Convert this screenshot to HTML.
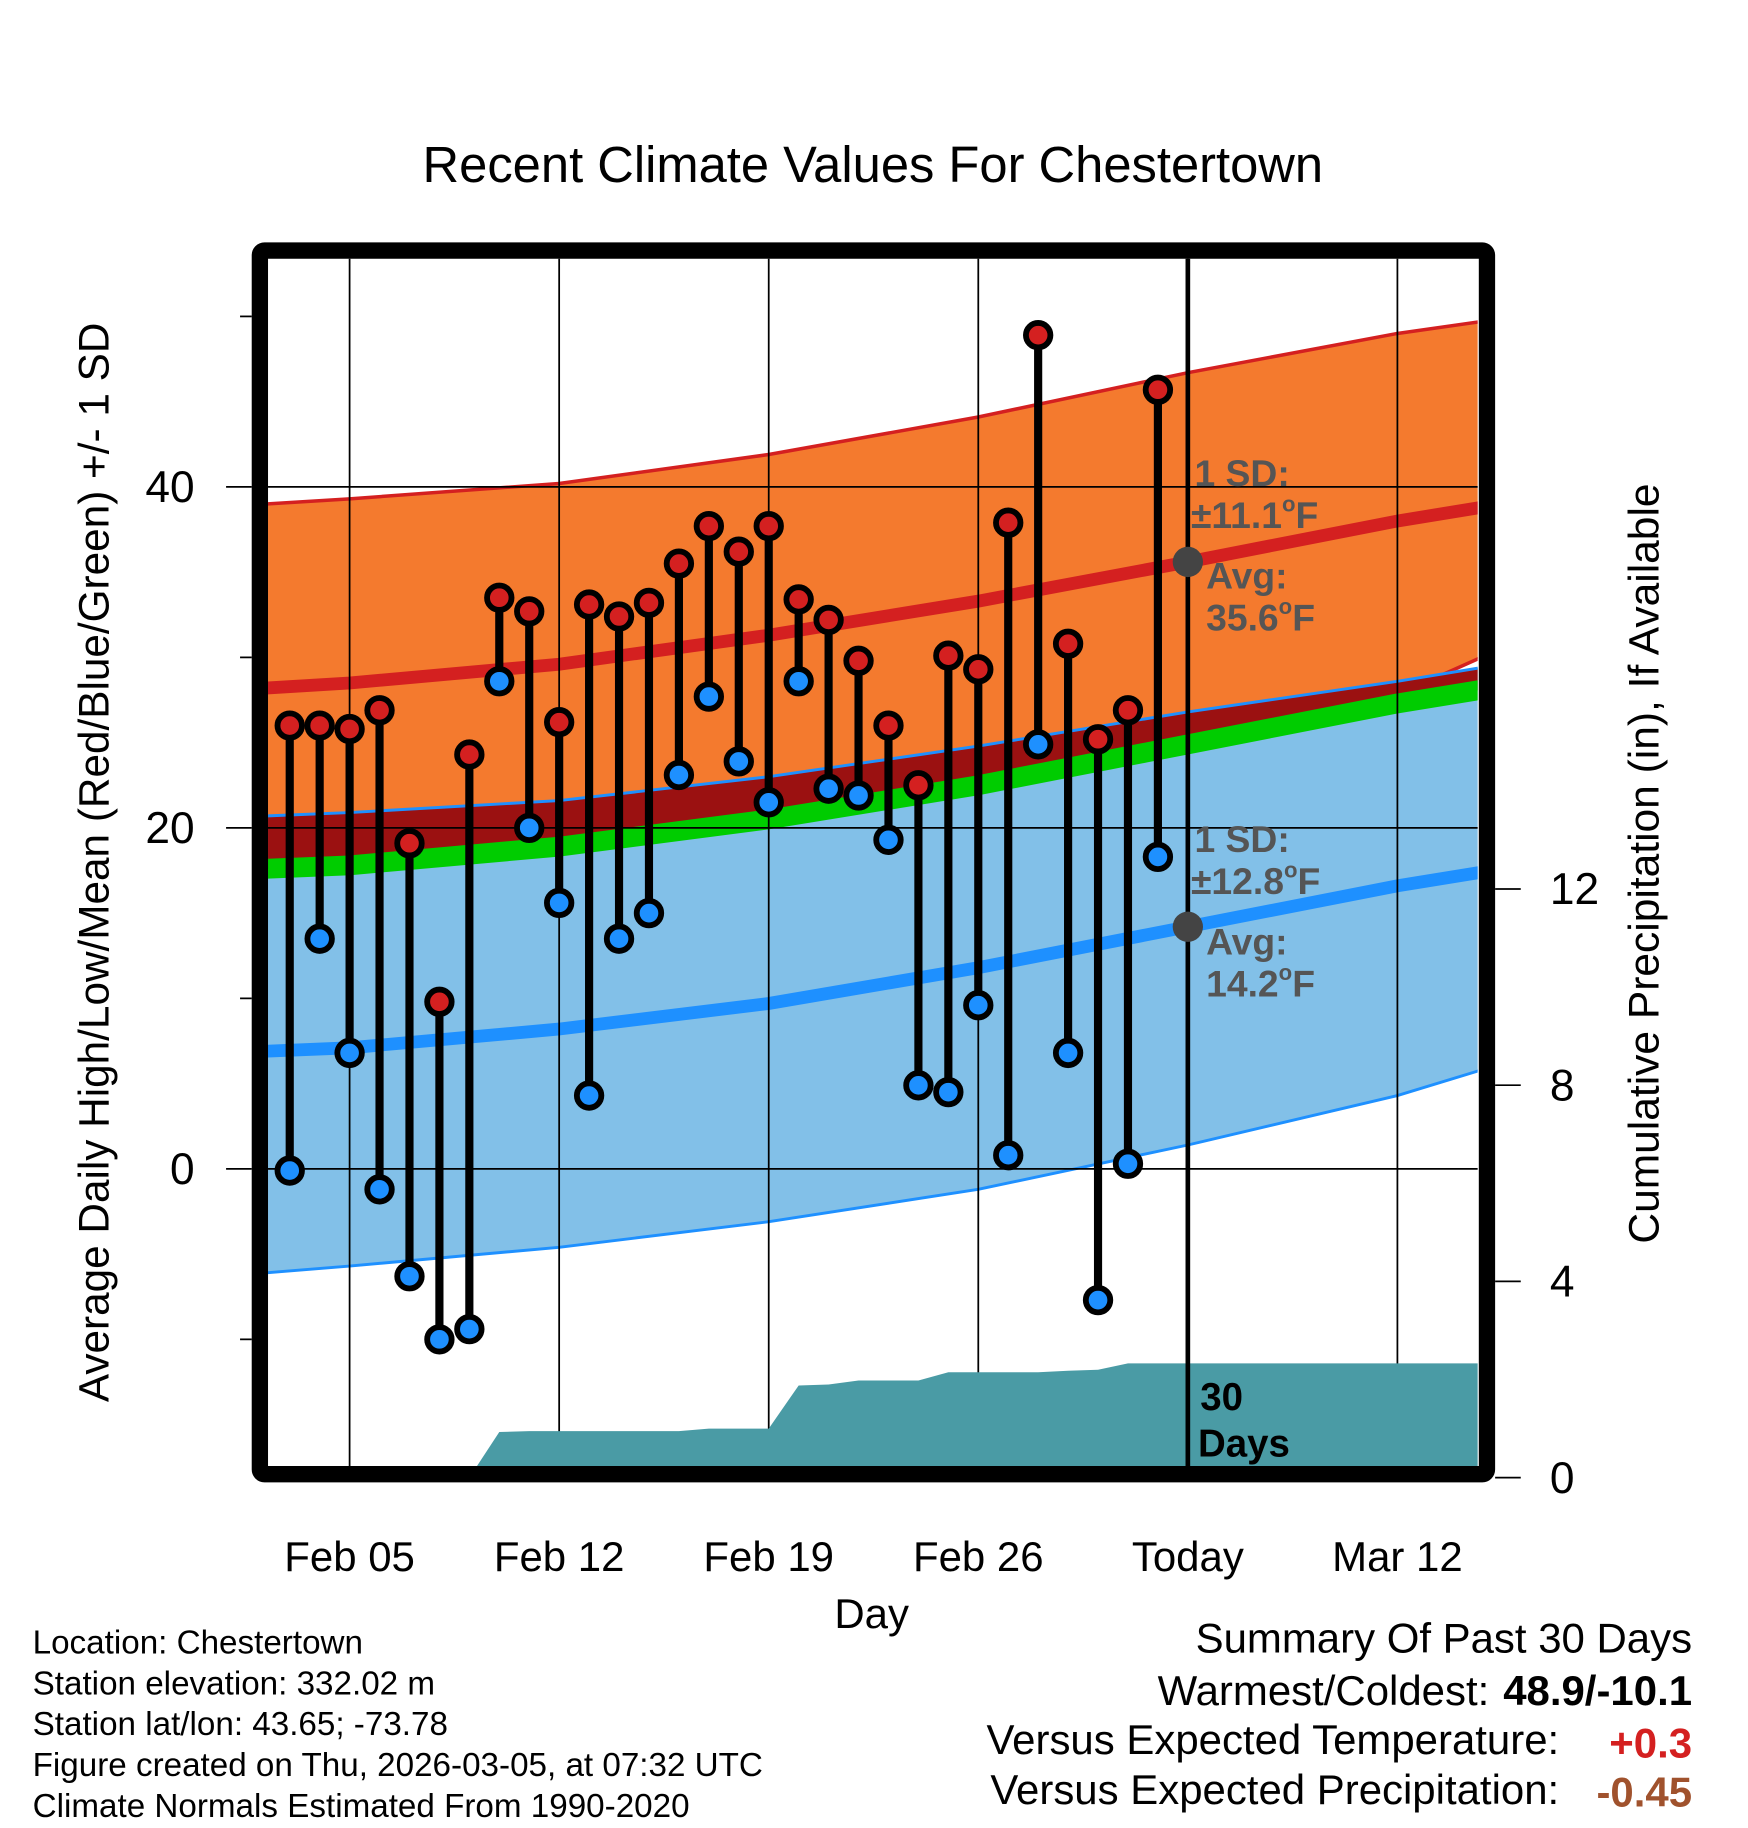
<!DOCTYPE html>
<html><head><meta charset="utf-8"><style>
html,body{margin:0;padding:0;background:#fff}
svg{display:block;font-family:"Liberation Sans",sans-serif}
</style></head><body>
<svg id="chart" width="1748" height="1828" viewBox="0 0 1500 1568.6" xmlns="http://www.w3.org/2000/svg">
<defs><clipPath id="plotclip"><rect x="230" y="222" width="1038" height="1036"/></clipPath></defs>
<text x="749" y="156" font-size="43.5" text-anchor="middle">Recent Climate Values For Chestertown</text>
<g id="plot" clip-path="url(#plotclip)"></g>
<g id="axes"></g>
</svg>
<script>
// ---- data ----
const normDays   = [1.2, 4, 11, 18, 25, 32, 39, 41.8];
const highUpper  = [39.0, 39.3, 40.2, 41.9, 44.1, 46.7, 49.0, 49.7];
const highMean   = [28.2, 28.5, 29.6, 31.3, 33.3, 35.6, 38.0, 38.8];
const highLower  = [17.1, 17.4, 18.5, 20.2, 22.2, 24.5, 27.8, 30.0];
const lowUpper   = [20.7, 20.9, 21.6, 23.0, 24.8, 26.8, 28.6, 29.4];
const lowMean    = [6.9, 7.1, 8.2, 9.7, 11.8, 14.2, 16.6, 17.4];
const lowLower   = [-6.1, -5.7, -4.6, -3.1, -1.2, 1.4, 4.3, 5.8];
const meanLine   = [17.6, 17.8, 18.9, 20.5, 22.5, 24.9, 27.3, 28.1];
const obsDays    = [2,3,4,5,6,7,8,9,10,11,12,13,14,15,16,17,18,19,20,21,22,23,24,25,26,27,28,29,30,31];
const highs = [26.0,26.0,25.8,26.9,19.1,9.8,24.3,33.5,32.7,26.2,33.1,32.4,33.2,35.5,37.7,36.2,37.7,33.4,32.2,29.8,26.0,22.5,30.1,29.3,37.9,48.9,30.8,25.2,26.9,45.7];
const lows  = [-0.1,13.5,6.8,-1.2,-6.3,-10.0,-9.4,28.6,20.0,15.6,4.3,13.5,15.0,23.1,27.7,23.9,21.5,28.6,22.3,21.9,19.3,4.9,4.5,9.6,0.8,24.9,6.8,-7.7,0.3,18.3];
const precip = [0,0,0,0,0,0,0,0.93,0.95,0.95,0.95,0.95,0.95,0.95,1.0,1.0,1.0,1.88,1.9,1.98,1.98,1.98,2.15,2.15,2.15,2.15,2.18,2.2,2.33,2.33];
const xTickDays = [4, 11, 18, 25, 32, 39];
const xTickLabels = ["Feb 05","Feb 12","Feb 19","Feb 26","Today","Mar 12"];
const yTicks = [0, 20, 40];
const yMinor = [-10, 10, 30, 50];
const pTicks = [0, 4, 8, 12];
const todayDay = 32;

// ---- scales ----
const X = d => 300 + (d - 4) * 25.69;
const Y = t => 1003 - t * 14.63;
const P = p => 1268 - p * 42.1;
const NS = "http://www.w3.org/2000/svg";
const plot = document.getElementById('plot');
const axes = document.getElementById('axes');
function mk(tag, attrs, parent) {
  const e = document.createElementNS(NS, tag);
  for (const k in attrs) e.setAttribute(k, attrs[k]);
  parent.appendChild(e); return e;
}
const line = arr => normDays.map((d,i)=>`${X(d)},${Y(arr[i])}`).join(' L');
const band = (up, lo) => 'M' + line(up) + ' L' + normDays.slice().reverse().map((d,j)=>{const i=normDays.length-1-j;return `${X(d)},${Y(lo[i])}`;}).join(' L') + 'Z';

let e;
e = mk('path',{d:band(highUpper, highLower),fill:'#f47a2e'},plot);


e = mk('path',{d:'M'+line(highUpper),fill:'none',stroke:'#d42020','stroke-width':3},plot);


e = mk('path',{d:'M'+line(highLower),fill:'none',stroke:'#d42020','stroke-width':3},plot);


e = mk('path',{d:band(lowUpper, lowLower),fill:'#82c0e8'},plot);


e = mk('path',{d:band(lowUpper, meanLine),fill:'#9b1111'},plot);


e = mk('path',{d:'M'+line(lowUpper),fill:'none',stroke:'#1e90ff','stroke-width':2.5},plot);


e = mk('path',{d:'M'+line(lowLower),fill:'none',stroke:'#1e90ff','stroke-width':2.5},plot);


e = mk('path',{d:'M'+line(meanLine),fill:'none',stroke:'#00cc00','stroke-width':17},plot);


e = mk('path',{d:'M'+line(highMean),fill:'none',stroke:'#d42020','stroke-width':11},plot);


e = mk('path',{d:'M'+line(lowMean),fill:'none',stroke:'#1e90ff','stroke-width':11},plot);



// grid
yTicks.forEach(t=>{
  e = mk('line',{x1:200,x2:1290,y1:Y(t),y2:Y(t),stroke:'#000','stroke-width':1.5},plot);
  
  
});
xTickDays.forEach(d=>{
  e = mk('line',{x1:X(d),x2:X(d),y1:180,y2:1300,stroke:'#000','stroke-width':1.5},plot);
  
  
});

// precip
let pd = `M${X(obsDays[0])},${P(0)} ` + obsDays.map((d,i)=>`L${X(d)},${P(precip[i])}`).join(' ') + ` L1270,${P(precip[precip.length-1])} L1270,1270 L${X(obsDays[0])},1270Z`;
e = mk('path',{d:pd,fill:'#4a9ba5'},plot);



// today line
e = mk('line',{x1:X(todayDay),x2:X(todayDay),y1:215,y2:1265,stroke:'#000','stroke-width':4},plot);



// observations
obsDays.forEach((d,i)=>{
  const x = X(d);
  e = mk('line',{x1:x,x2:x,y1:Y(highs[i]),y2:Y(lows[i]),stroke:'#000','stroke-width':7},plot);
  
  
  e = mk('circle',{cx:x,cy:Y(highs[i]),r:10.5,fill:'#d42020',stroke:'#000','stroke-width':5},plot);
  
  
  e = mk('circle',{cx:x,cy:Y(lows[i]),r:10.5,fill:'#1e90ff',stroke:'#000','stroke-width':5},plot);
  
  
});

// annotations
const tx = X(todayDay);
e = mk('circle',{cx:tx,cy:Y(highMean[5]),r:13,fill:'#444'},plot);


e = mk('circle',{cx:tx,cy:Y(lowMean[5]),r:13,fill:'#444'},plot);


function txt(s, x, y, attrs, name, parent) {
  const t = mk('text', Object.assign({x:x,y:y}, attrs), parent||axes);
  t.innerHTML = s;
  
  
  return t;
}
const ann = {fill:'#555','font-size':32,'font-weight':'bold'};
txt('1 SD:',1025,417,ann,'high-sd-label',plot);
txt('±11.1<tspan font-size="19" dy="-14">o</tspan><tspan dy="14">F</tspan>',1022,453,ann,'high-sd-value',plot);
txt('Avg:',1035,505,ann,'high-avg-label',plot);
txt('35.6<tspan font-size="19" dy="-14">o</tspan><tspan dy="14">F</tspan>',1035,541,ann,'high-avg-value',plot);
txt('1 SD:',1025,731,ann,'low-sd-label',plot);
txt('±12.8<tspan font-size="19" dy="-14">o</tspan><tspan dy="14">F</tspan>',1022,767,ann,'low-sd-value',plot);
txt('Avg:',1035,819,ann,'low-avg-label',plot);
txt('14.2<tspan font-size="19" dy="-14">o</tspan><tspan dy="14">F</tspan>',1035,855,ann,'low-avg-value',plot);
txt('30',1030,1210,{'font-size':33,'font-weight':'bold'},'days-count-label',plot);
txt('Days',1028,1250,{'font-size':33,'font-weight':'bold'},'days-word-label',plot);

// frame
e = mk('rect',{x:223,y:215,width:1053,height:1050,rx:4,fill:'none',stroke:'#000','stroke-width':14},axes);



// ticks
yTicks.forEach(t=>{
  e = mk('line',{x1:194,x2:216,y1:Y(t),y2:Y(t),stroke:'#000','stroke-width':1.5},axes);
  
  
  txt(String(t),167,Y(t)+13,{'font-size':38,'text-anchor':'end'},'y-tick-label');
});
yMinor.forEach(t=>{
  e = mk('line',{x1:206,x2:216,y1:Y(t),y2:Y(t),stroke:'#000','stroke-width':1.5},axes);
  
  
});
pTicks.forEach(p=>{
  e = mk('line',{x1:1283,x2:1305,y1:P(p),y2:P(p),stroke:'#000','stroke-width':1.5},axes);
  
  
  txt(String(p),1330,P(p)+13,{'font-size':38},'precip-tick-label');
});
xTickDays.forEach((d,i)=>{
  txt(xTickLabels[i],X(d),1348,{'font-size':36,'text-anchor':'middle'},'x-tick-label');
});
txt('Day',748,1397,{'font-size':36,'text-anchor':'middle'},'x-axis-title');
txt('Average Daily High/Low/Mean (Red/Blue/Green) +/- 1 SD',0,0,{'font-size':36.3,'text-anchor':'middle',transform:'translate(93,740) rotate(-90)'},'y-axis-title');
txt('Cumulative Precipitation (in), If Available',0,0,{'font-size':36.5,'text-anchor':'middle',transform:'translate(1423,741) rotate(-90)'},'precip-axis-title');

// footer
const foot = ['Location: Chestertown','Station elevation: 332.02 m','Station lat/lon: 43.65; -73.78','Figure created on Thu, 2026-03-05, at 07:32 UTC','Climate Normals Estimated From 1990-2020'];
foot.forEach((s,i)=>txt(s,28,1419+i*35,{'font-size':28.5},'footer-line'));
txt('Summary Of Past 30 Days',1452,1418,{'font-size':36},'summary-title').setAttribute('text-anchor','end');
txt('Warmest/Coldest:',1278,1463,{'font-size':36,'text-anchor':'end'},'warmest-coldest-label');
txt('48.9/-10.1',1452,1463,{'font-size':36,'text-anchor':'end','font-weight':'bold'},'warmest-coldest-value');
txt('Versus Expected Temperature:',1338,1505,{'font-size':36,'text-anchor':'end'},'temp-anomaly-label');
txt('+0.3',1452,1508,{'font-size':36,'text-anchor':'end','font-weight':'bold',fill:'#d42020'},'temp-anomaly-value');
txt('Versus Expected Precipitation:',1338,1548,{'font-size':36,'text-anchor':'end'},'precip-anomaly-label');
txt('-0.45',1452,1550,{'font-size':36,'text-anchor':'end','font-weight':'bold',fill:'#a0522d'},'precip-anomaly-value');
</script>
</body></html>
